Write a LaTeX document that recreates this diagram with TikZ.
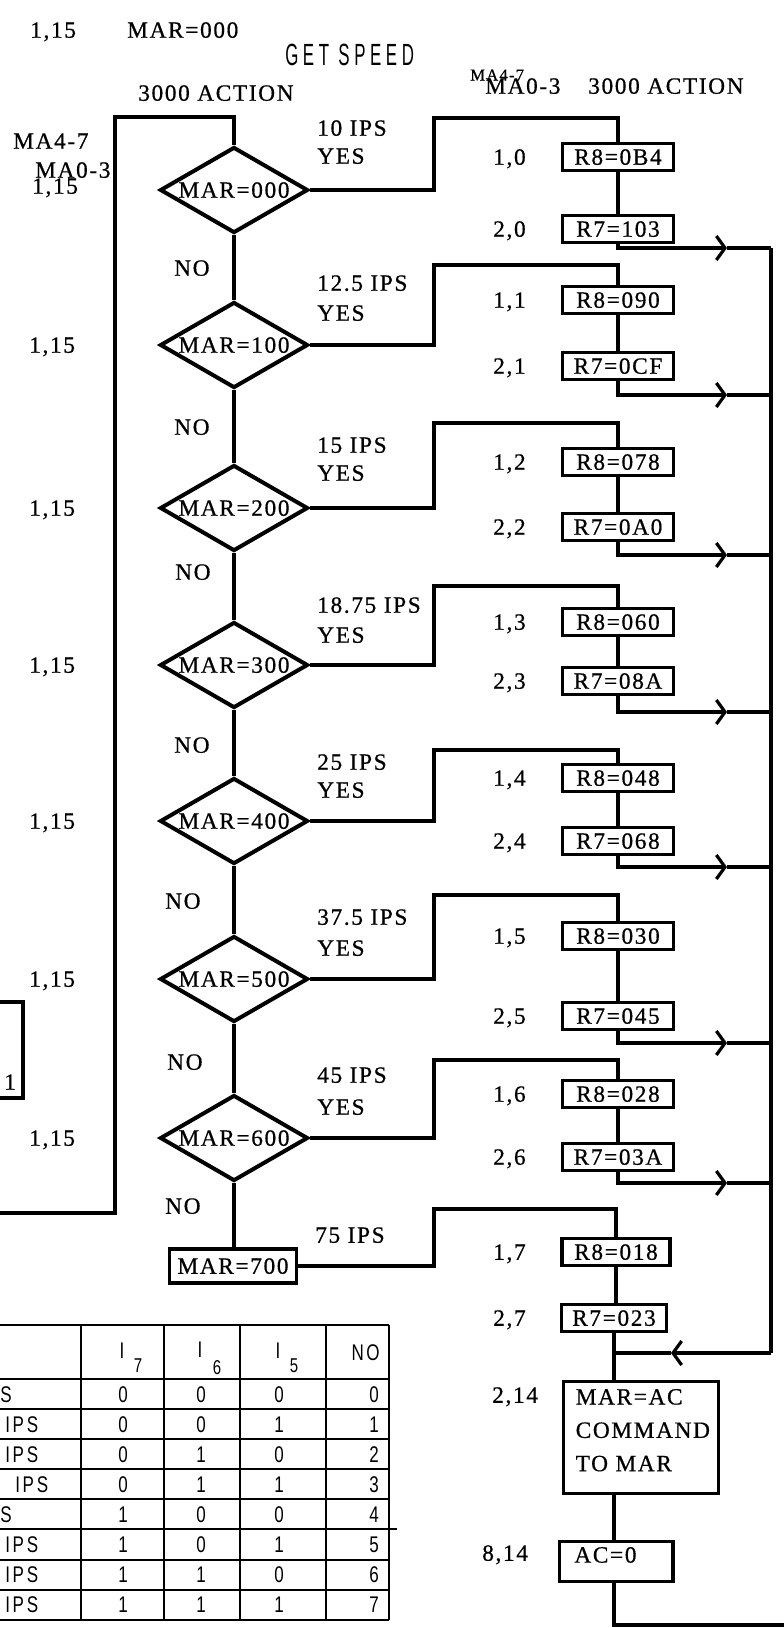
\documentclass[tikz,border=0pt]{standalone}
\usepackage{fontspec}
\usetikzlibrary{shapes.geometric,arrows.meta}
\newfontfamily\mylbf{Liberation Serif}[LetterSpace=7,FakeBold=0.6]
\newfontfamily\mygsf{Liberation Sans}[FakeStretch=0.55,LetterSpace=15]
\newfontfamily\mytbf{Liberation Sans}[FakeStretch=0.75,LetterSpace=12]
\newcommand\lbfont{\mylbf\fontsize{17.5pt}{25pt}\selectfont}
\newcommand\smfont{\mylbf\fontsize{12.5pt}{14pt}\selectfont}
\newcommand\gsfont{\mygsf\fontsize{23pt}{27pt}\selectfont}
\newcommand\tbfont{\mytbf\fontsize{17pt}{20pt}\selectfont}
\newcommand\tbsub{\mytbf\fontsize{15pt}{17pt}\selectfont}
\tikzset{
  lbl/.style={inner sep=0pt, anchor=west, text height=11.6pt, text depth=0pt, font=\lbfont},
  dia/.style={draw, diamond, line width=3pt, minimum width=111pt, minimum height=64.5pt, aspect=1.72, inner sep=0pt, font=\lbfont, text height=11.6pt, text depth=0pt},
  bx/.style={draw, line width=2.6pt, minimum width=83.25pt, minimum height=20.25pt, inner sep=0pt, font=\lbfont, text height=11.6pt, text depth=0pt},
  conn/.style={line width=2.5pt},
  arr/.style={conn, -{Straight Barb[length=6.5pt,width=18pt,line width=2.4pt]}},
  tl/.style={line width=1.8pt},
  tc/.style={inner sep=0pt, text height=12.1pt, text depth=0pt, font=\tbfont},
}
\begin{document}
\begin{tikzpicture}[x=0.75pt,y=-0.75pt]
\useasboundingbox (0,0) rectangle (784,1628);
\fill[white] (0,0) rectangle (784,1628);
\clip (0,0) rectangle (784,1628);

% top texts
\node[lbl] (t115) at (30,30) {1,15};
\node[lbl] (tmar) at (127,30) {MAR=000};
\node[inner sep=0pt, anchor=west, text height=16.5pt, text depth=0pt, font=\gsfont] (gsp) at (285,54) {GET SPEED};
\node[lbl] (act1) at (138,93) {3000 ACTION};
\node[lbl] (ma47a) at (13,141) {MA4-7};
\node[lbl] (ma03a) at (35,170) {MA0-3};
\node[lbl] (l15a) at (32,186) {1,15};
\node[lbl, font=\smfont, text height=8.3pt] (ma47b) at (470,75) {MA4-7};
\node[lbl] (ma03b) at (485,86) {MA0-3};
\node[lbl] (act2) at (588,86) {3000 ACTION};

% groups
\foreach \i/\yd/\yt/\ya/\yb/\yr/\ips/\yi/\yy/\ta/\tb in {
0/190/118/157/229/248/10 IPS/128/156/0B4/103,
1/345/265/300/366/395/12.5 IPS/283/313/090/0CF,
2/508/423/462/527/555/15 IPS/445/473/078/0A0,
3/665/586/622/681/712/18.75 IPS/605/635/060/08A,
4/821/750/778/841/867/25 IPS/762/790/048/068,
5/979/895/936/1016/1043/37.5 IPS/917/948/030/045,
6/1138/1060/1094/1157/1183/45 IPS/1075/1107/028/03A}
{
  \node[dia] (d\i) at (234,\yd) {MAR=\i00};
  \node[bx] (ra\i) at (618,\ya) {R8=\ta};
  \node[bx] (rb\i) at (618,\yb) {R7=\tb};
  \node[lbl] (la\i) at (493,\ya) {1,\i};
  \node[lbl] (lb\i) at (493,\yb) {2,\i};
  \node[lbl] (ips\i) at (317,\yi) {\ips};
  \node[lbl] (yes\i) at (317,\yy) {YES};
  \coordinate (br\i) at (434,\yt);
  \coordinate (tip\i) at (727,\yr);
  \coordinate (jn\i) at (771,\yr);
  \draw[conn] (d\i.east) -| (br\i) -| (ra\i.north);
  \draw[conn] (ra\i.south) -- (rb\i.north);
  \draw[arr] (rb\i.south) |- (tip\i);
  \draw[conn] (tip\i) -- (jn\i);
}
\foreach \i/\yd in {1/345,2/508,3/665,4/821,5/979,6/1138}
  \node[lbl] (lf\i) at (29,\yd) {1,15};
\foreach \i/\x/\y in {1/174/268,2/174/427,3/175/572,4/174/745,5/165/901,6/167/1062,7/165/1206}
  \node[lbl] (no\i) at (\x,\y) {NO};

% main vertical
\foreach \i/\j in {0/1,1/2,2/3,3/4,4/5,5/6}
  \draw[conn] (d\i.south) -- (d\j.north);

% group 7
\node[bx, minimum width=95.25pt, minimum height=25.5pt] (m7) at (233,1266) {MAR=700};
\draw[conn] (d6.south) -- (d6.south |- m7.north);
\node[bx, minimum width=81pt] (ra7) at (616,1252) {R8=018};
\node[bx, minimum width=78.75pt] (rb7) at (614,1318) {R7=023};
\node[lbl] (la7) at (493,1252) {1,7};
\node[lbl] (lb7) at (493,1318) {2,7};
\node[lbl] (ips7) at (315,1235) {75 IPS};
\coordinate (br7) at (434,1209);
\draw[conn] (m7.east) -| (br7) -| (ra7.north);
\draw[conn] (ra7.south) -- (ra7.south |- rb7.north);

% left loop
\coordinate (lstart) at (0,1213);
\coordinate (ltop) at (115,117);
\draw[conn] (lstart) -| (ltop) -| (d0.north);

% right collector and return
\coordinate (jr) at (771,1353);
\coordinate (rtip) at (671,1353);
\coordinate (rj) at (614,1353);
\draw[conn] (jn0) -- (jr);
\draw[arr] (jr) -- (rtip);
\draw[conn] (rtip) -- (rj);

% final boxes
\node[draw, line width=2.6pt, anchor=north west, inner xsep=9pt, inner ysep=5.5pt, font=\lbfont]
  (mac) at (562,1380)
  {\begin{minipage}[t][73pt][t]{98.25pt}\raggedright MAR=AC\\COMMAND\\TO MAR\end{minipage}};
\node[lbl] (l214) at (492,1395) {2,14};
\draw[conn] (rb7.south) -- (rb7.south |- mac.north);
\node[draw, line width=2.6pt, anchor=north west, inner xsep=11pt, inner ysep=4pt, font=\lbfont]
  (ac0) at (558,1540)
  {\begin{minipage}[t][22pt][t]{63pt}AC=0\end{minipage}};
\node[lbl] (l814) at (482,1553) {8,14};
\draw[conn] (rb7.south |- mac.south) -- (rb7.south |- ac0.north);
\coordinate (bend) at (784,1625);
\draw[conn] (rb7.south |- ac0.south) |- (bend);

% partial box at left edge
\draw[conn] (0,1002) -- (23,1002) -- (23,1098) -- (0,1098);
\node[lbl] (pb1) at (4,1082) {1};

% table
\foreach \y in {1325,1379,1409,1439,1469,1499,1529,1560,1590,1620}
  \draw[tl] (0,\y) -- (389,\y);
\draw[tl] (389,1529) -- (397,1529);
\foreach \x in {81,164,240,326,389}
  \draw[tl] (\x,1325) -- (\x,1620);
\node[tc] (hI7) at (122,1350) {I};
\node[inner sep=0pt, font=\tbsub] (hs7) at (138,1366) {7};
\node[tc] (hI6) at (200,1349) {I};
\node[inner sep=0pt, font=\tbsub] (hs6) at (217,1368) {6};
\node[tc] (hI5) at (278,1350) {I};
\node[inner sep=0pt, font=\tbsub] (hs5) at (294,1366) {5};
\node[tc, anchor=east] (hno) at (380,1352) {NO};
\foreach \r/\lab/\lx/\a/\b/\c/\n in {
0/S/0/0/0/0/0,
1/IPS/5/0/0/1/1,
2/IPS/5/0/1/0/2,
3/IPS/15/0/1/1/3,
4/S/0/1/0/0/4,
5/IPS/5/1/0/1/5,
6/IPS/5/1/1/0/6,
7/IPS/5/1/1/1/7}
{
  \pgfmathsetmacro\yy{1394+30.1*\r}
  \node[tc, anchor=west] (rl\r) at (\lx,\yy) {\lab};
  \node[tc] (ca\r) at (123,\yy) {\a};
  \node[tc] (cb\r) at (201,\yy) {\b};
  \node[tc] (cc\r) at (279,\yy) {\c};
  \node[tc, anchor=east] (cn\r) at (379,\yy) {\n};
}
\end{tikzpicture}
\end{document}
